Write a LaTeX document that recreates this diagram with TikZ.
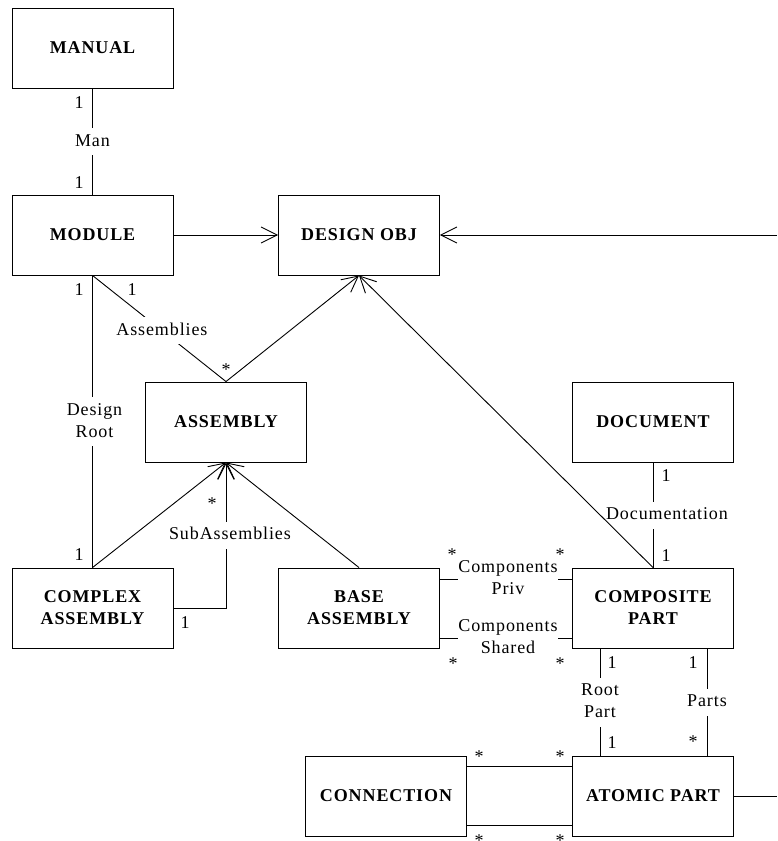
\documentclass[tikz,border=0pt]{standalone}
\usepackage{fontspec}
\setmainfont{Liberation Serif}[LetterSpace=5]
\usetikzlibrary{arrows.meta}
\begin{document}
\begin{tikzpicture}[x=1pt,y=-1pt,
  every node/.style={font=\fontsize{18}{22}\selectfont},
  cls/.style={draw, line width=0.9pt, minimum width=161pt, minimum height=80pt,
    inner sep=0pt, align=center, font=\fontsize{18}{22}\selectfont\bfseries},
  lnk/.style={line width=0.9pt},
  arr/.style={lnk, -{Straight Barb[length=16pt,width=16pt]}},
  elbl/.style={fill=white, inner xsep=2pt, inner ysep=4pt, text height=14pt,
    text depth=5pt, align=center},
  elbltwo/.style={elbl, text height=36pt},
  mult/.style={inner sep=0pt, anchor=base}
]
\useasboundingbox (0,0) rectangle (777,841);

% classes
\node[cls] (manual)     at (92.5,48)  {MANUAL};
\node[cls] (module)     at (92.5,235) {MODULE};
\node[cls] (designobj)  at (359,235)  {DESIGN OBJ};
\node[cls] (assembly)   at (226,422)  {ASSEMBLY};
\node[cls] (document)   at (653,422)  {DOCUMENT};
\node[cls] (complex)    at (92.5,608) {COMPLEX\\ASSEMBLY};
\node[cls] (base)       at (359,608)  {BASE\\ASSEMBLY};
\node[cls] (composite)  at (653,608)  {COMPOSITE\\PART};
\node[cls] (connection) at (386,796)  {CONNECTION};
\node[cls] (atomic)     at (653,796)  {ATOMIC PART};

\coordinate (edgeTop) at (777,235);
\coordinate (edgeBot) at (777,796);

% generalisations
\draw[arr] (module.east) -- (designobj.west);
\draw[arr] (edgeTop) -- (designobj.east);
\draw[arr] (assembly.north) -- (designobj.south);
\draw[arr] (complex.north) -- (assembly.south);
\draw[arr] (base.north) -- (assembly.south);
\draw[lnk] (atomic.east) -- (edgeBot);

% associations
\draw[lnk] (manual.south) -- node[elbl] (lMan) {Man} (module.north);
\draw[lnk] (module.south) -- node[elbltwo, xshift=2pt] (lRoot) {Design\\Root} (complex.north);
\draw[lnk] (module.south) -- node[elbl, pos=0.52] (lAsm) {Assemblies} (assembly.north);
\draw[arr] (complex.east) -| node[elbl, pos=0.75, xshift=4pt] (lSub) {SubAssemblies} (assembly.south);
\draw[lnk] ([yshift=29pt]base.east) -- node[elbltwo, inner xsep=0pt, xshift=2pt] (lPriv) {Components\\Priv} ([yshift=29pt]composite.west);
\draw[lnk] ([yshift=-30pt]base.east) -- node[elbltwo, inner xsep=0pt, xshift=2pt] (lShared) {Components\\Shared} ([yshift=-30pt]composite.west);
\draw[lnk] ([xshift=-53pt]composite.south) -- node[elbltwo] (lRootPart) {Root\\Part} ([xshift=-53pt]atomic.north);
\draw[lnk] ([xshift=54pt]composite.south) -- node[elbl] (lParts) {Parts} ([xshift=54pt]atomic.north);
\draw[lnk] ([yshift=30pt]connection.east) -- ([yshift=30pt]atomic.west);
\draw[lnk] ([yshift=-29pt]connection.east) -- ([yshift=-29pt]atomic.west);
\draw[lnk] (document.south) -- node[elbl, xshift=14pt] (lDoc) {Documentation} (composite.north);
\draw[arr] (composite.north) -- (designobj.south);

% multiplicities
\node[mult] (m1)  at (79,108)  {1};
\node[mult] (m2)  at (79,188)  {1};
\node[mult] (m3)  at (79,295)  {1};
\node[mult] (m4)  at (132,295) {1};
\node[mult] (m5)  at (226,375) {*};
\node[mult] (m6)  at (79,560)  {1};
\node[mult] (m7)  at (212,509) {*};
\node[mult] (m8)  at (185,628) {1};
\node[mult] (m9)  at (666,481) {1};
\node[mult] (m10) at (666,561) {1};
\node[mult] (m11) at (452,560) {*};
\node[mult] (m12) at (560,560) {*};
\node[mult] (m13) at (453,669) {*};
\node[mult] (m14) at (560,669) {*};
\node[mult] (m15) at (612,668) {1};
\node[mult] (m16) at (612,748) {1};
\node[mult] (m17) at (693,668) {1};
\node[mult] (m18) at (693,747) {*};
\node[mult] (m19) at (479,762) {*};
\node[mult] (m20) at (560,762) {*};
\node[mult] (m21) at (479,846) {*};
\node[mult] (m22) at (560,846) {*};
\end{tikzpicture}
\end{document}
